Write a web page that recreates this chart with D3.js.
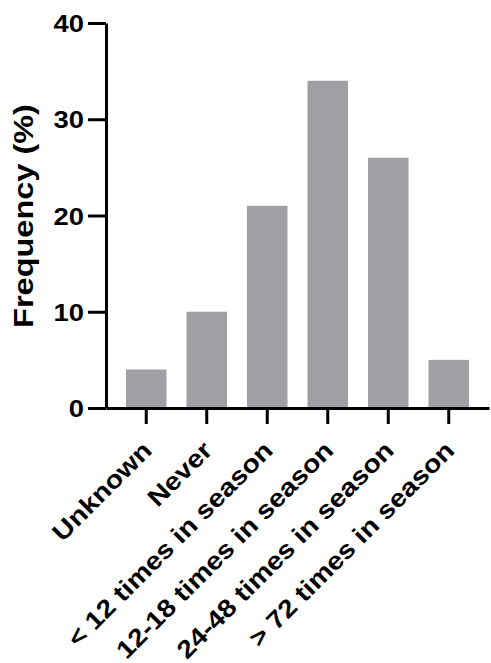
<!DOCTYPE html>
<html>
<head>
<meta charset="utf-8">
<script src="https://cdn.jsdelivr.net/npm/d3@7"></script>
<style>
  body { margin: 0; background: #fff; }
  svg { display: block; }
  text { font-family: "Liberation Sans", Arial, sans-serif; font-weight: bold; fill: #000; }
</style>
</head>
<body>
<script>
// data
var categories = ["Unknown", "Never", "< 12 times in season", "12-18 times in season", "24-48 times in season", "> 72 times in season"];
var frequency = [4, 10, 21, 34, 26, 5];
var yTicks = [0, 10, 20, 30, 40];
var yTitle = "Frequency (%)";

var width = 491;
var height = 663;
var stretch = 1.14; // the font in the picture is a bit wider than Arial

var svg = d3.select("body")
            .append("svg")
            .attr("width", width)
            .attr("height", height);

var x = d3.scaleBand()
          .domain(categories)
          .range([106, 489])
          .paddingInner(0.33)
          .paddingOuter(0.33);

var y = d3.scaleLinear()
          .domain([0, 40])
          .range([408, 23]);

// bars
svg.selectAll(".bar")
   .data(frequency)
   .enter().append("rect")
   .attr("class", "bar")
   .attr("x", function(d, i) { return x(categories[i]); })
   .attr("y", function(d) { return y(d); })
   .attr("width", x.bandwidth())
   .attr("height", function(d) { return y(0) - y(d); })
   .attr("fill", "#a09fa4");

// x axis, labels drawn by hand below
var xAxis = svg.append("g")
               .attr("transform", "translate(0," + y(0) + ")")
               .call(d3.axisBottom(x).tickSize(16).tickSizeOuter(0).tickFormat(""));

// y axis
var yAxis = svg.append("g")
               .attr("transform", "translate(106,0)")
               .call(d3.axisLeft(y).tickValues(yTicks).tickSize(18).tickSizeOuter(0).tickPadding(4));

svg.selectAll(".domain, .tick line")
   .attr("stroke", "#000")
   .attr("stroke-width", 3);

yAxis.selectAll(".tick text")
     .attr("x", 0)
     .attr("transform", "translate(-22,0) scale(" + stretch + ",1)")
     .style("font-size", "24px")
     .attr("dy", "0.36em");

svg.selectAll(".xlabel")
   .data(categories)
   .enter().append("text")
   .attr("class", "xlabel")
   .attr("transform", function(d) {
       return "translate(" + (x(d) + x.bandwidth() / 2 + 7) + ",452) rotate(-45) scale(" + stretch + ",1)";
   })
   .attr("text-anchor", "end")
   .style("font-size", "25px")
   .text(function(d) { return d; });

svg.append("text")
   .attr("transform", "translate(33,216) rotate(-90) scale(" + stretch + ",1)")
   .attr("text-anchor", "middle")
   .style("font-size", "28.5px")
   .text(yTitle);
</script>
</body>
</html>
